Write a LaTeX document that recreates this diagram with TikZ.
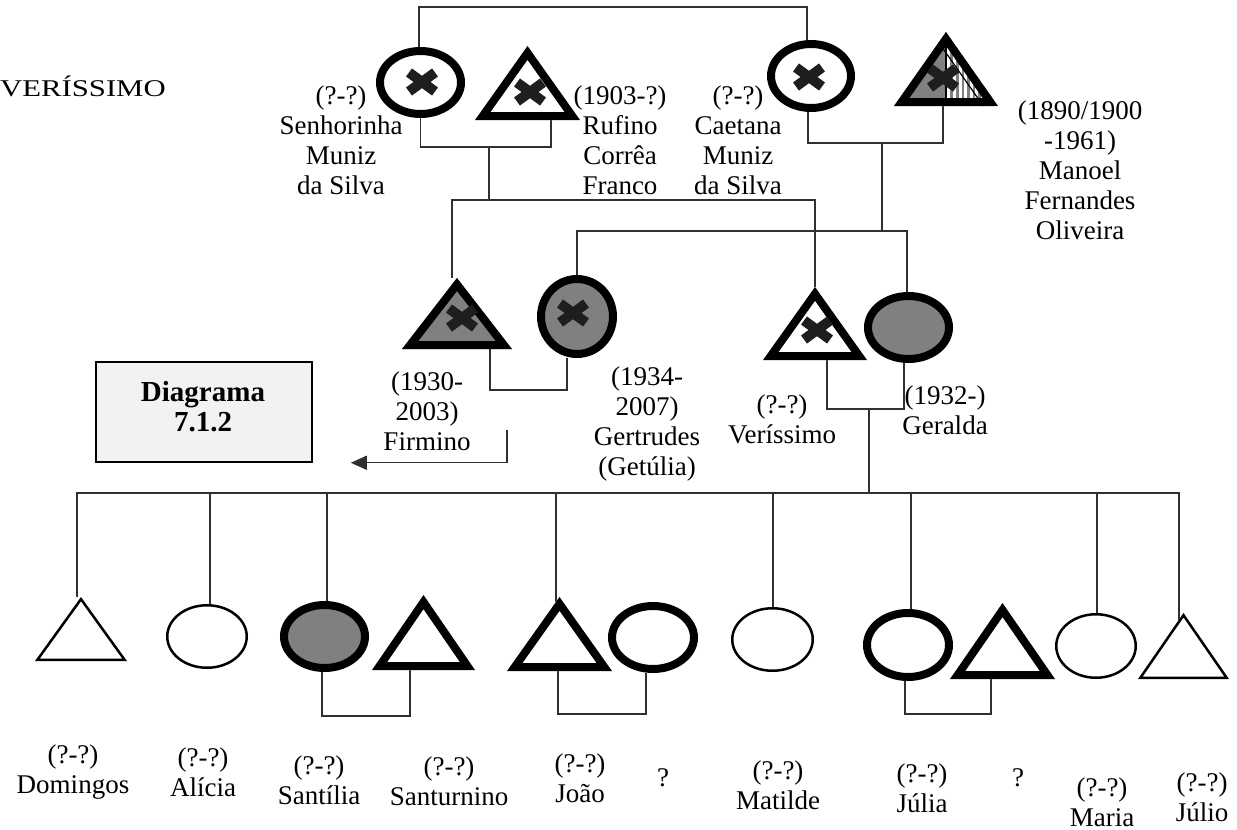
\documentclass[tikz,border=0pt]{standalone}
\usepackage{fontspec}
\setmainfont{Liberation Serif}
\usetikzlibrary{shapes.geometric,calc,arrows.meta}
\definecolor{fillgray}{HTML}{808080}
\definecolor{linegray}{HTML}{303030}
\definecolor{xgray}{HTML}{1E1E1E}
\definecolor{boxgray}{HTML}{F2F2F2}
\pgfdeclarelayer{bg}
\pgfsetlayers{bg,main}

\tikzset{
  conn/.style={draw=linegray, line width=1.4pt},
  lbl/.style={align=center, inner sep=0pt, font=\fontsize{27}{30}\selectfont},
  % ellipse person: outer width, outer height, fill, stroke width
  pers ellipse/.style n args={4}{ellipse, draw=black, line width=#4pt, fill=#3,
    inner sep=0pt, minimum width=#1pt-#4pt, minimum height=#2pt-#4pt},
  % triangle person: outer width, outer height, fill, doubled stroke width (clipped inside)
  pers tri/.style n args={4}{rectangle, inner sep=0pt, outer sep=0pt,
    minimum width=#1pt, minimum height=#2pt,
    path picture={
      \coordinate (tA) at (path picture bounding box.north);
      \coordinate (tB) at (path picture bounding box.south west);
      \coordinate (tC) at (path picture bounding box.south east);
      \begin{scope}
        \clip (tA)--(tB)--(tC)--cycle;
        \fill[#3] (tA)--(tB)--(tC)--cycle;
        \draw[black, line width=#4pt, line join=miter] (tA)--(tB)--(tC)--cycle;
      \end{scope}
    }},
  % triangle half grey, half hatched
  manoel tri/.style={rectangle, inner sep=0pt, outer sep=0pt,
    minimum width=104pt, minimum height=74pt,
    path picture={
      \coordinate (mA) at (path picture bounding box.north);
      \coordinate (mB) at (path picture bounding box.south west);
      \coordinate (mC) at (path picture bounding box.south east);
      \begin{scope}
        \clip (mA)--(mB)--(mC)--cycle;
        \fill[white] (mA)--(mB)--(mC)--cycle;
        \fill[fillgray] (mB) rectangle (mA);
        \foreach \i in {1,...,8}
          \draw[fillgray, line width=2.6pt] ($(mA)+(\i*5.6,0)$) -- ($(mA |- mB)+(\i*5.6,0)$);
        \draw[black, line width=1.2pt] (mA) -- (mA |- mB);
        \draw[black, line width=1.2pt] ($(mA)+(-9.8,6.9)$) -- ($(mC)+(-9.8,6.9)$);
        \draw[black, line width=16pt, line join=miter] (mA)--(mB)--(mC)--cycle;
      \end{scope}
    }},
  xmark/.pic={\draw[xgray, line width=10pt] (-13,-9.5)--(13,9.5) (-13,9.5)--(13,-9.5);}
}

\begin{document}
\begin{tikzpicture}[x=1pt,y=-1pt]
\useasboundingbox (0,0) rectangle (1237,830);

% title
\node[anchor=base east, inner sep=0pt, xscale=1.28, font=\fontsize{24}{28}\selectfont] (title) at (166,96) {VERÍSSIMO};

% grandparents
\node[pers ellipse={89}{71}{white}{8}] (sen) at (420.5,82.5) {};
\node[pers tri={105}{74}{white}{16}] (ruf) at (527.5,83) {};
\node[pers ellipse={88}{72}{white}{8}] (cae) at (811,76) {};
\node[manoel tri] (man) at (946,69) {};

% parents
\node[pers tri={110}{71}{fillgray}{16}] (fir) at (457,313.5) {};
\node[pers ellipse={80}{83}{fillgray}{8}] (gtr) at (577,316.5) {};
\node[pers tri={104}{73}{white}{16}] (ver) at (815,323.5) {};
\node[pers ellipse={89}{71}{fillgray}{8}] (gel) at (908.5,327.5) {};

% children
\node[pers tri={92}{64}{white}{5}] (dom) at (81,629) {};
\node[pers ellipse={82}{65}{white}{2.5}] (ali) at (207,636.5) {};
\node[pers ellipse={89}{71}{fillgray}{8}] (san) at (324.5,636.5) {};
\node[pers tri={103}{75}{white}{16}] (sat) at (423.5,632.5) {};
\node[pers tri={105}{74}{white}{16}] (joa) at (559.5,634) {};
\node[pers ellipse={90}{71}{white}{8}] (jsp) at (653,637.5) {};
\node[pers ellipse={83}{65}{white}{2.5}] (mat) at (772.5,639.5) {};
\node[pers ellipse={90}{72}{white}{8}] (jul) at (908,645) {};
\node[pers tri={105}{76}{white}{16}] (jus) at (1002.5,641) {};
\node[pers ellipse={82}{66}{white}{2.5}] (mar) at (1096,646) {};
\node[pers tri={91}{66}{white}{5}] (juo) at (1183.5,646) {};

% deceased marks
\pic at ($(sen)+(1.5,-0.5)$) {xmark};
\pic at ($(ruf)+(2.5,9)$) {xmark};
\pic at ($(cae)+(-2,1)$) {xmark};
\pic at ($(man)+(-3,9)$) {xmark};
\pic at ($(fir)+(5,4.5)$) {xmark};
\pic at ($(gtr)+(-4,-3.5)$) {xmark};
\pic at ($(ver)+(2,6.5)$) {xmark};

% legend box
\node[draw=black, line width=1.5pt, fill=boxgray, minimum width=216pt, minimum height=100pt,
  inner sep=0pt] (box) at (204,412) {};
\node[align=center, inner sep=0pt, font=\bfseries\fontsize{29}{30}\selectfont] (boxtxt) at (203,407) {Diagrama\\7.1.2};

% connectors
\coordinate (topmid) at (613,7);
\coordinate (c1) at (489,147);
\coordinate (k1) at (489,200);
\coordinate (c2) at (882,143);
\coordinate (k2) at (882,231);
\coordinate (c3) at (530,390);
\coordinate (arrtop) at (507,430);
\coordinate (c4) at (869,409);
\coordinate (kline) at (869,493);
\coordinate (c5) at (366,716);
\coordinate (c6) at (602,714);
\coordinate (c7) at (948,714);

\begin{pgfonlayer}{bg}
\draw[conn] ($(sen.north)+(-1.5,0)$) |- (topmid) -| ($(cae.north)+(-4,0)$);
\draw[conn] (sen.south) |- (c1) -| ($(ruf.south)+(23.5,0)$);
\draw[conn] (c1) -- (k1);
\draw[conn] ($(fir.north)+(-5,0)$) |- (k1) -| (ver.north);
\draw[conn] ($(cae.south)+(-3,0)$) |- (c2) -| ($(man.south)+(-3,0)$);
\draw[conn] (c2) -- (k2);
\draw[conn] (gtr.north) |- (k2) -| ($(gel.north)+(-1.5,0)$);
\draw[conn] ($(fir.south)+(33,0)$) |- (c3) -| ($(gtr.south)+(-10,0)$);
\draw[conn] ($(ver.south)+(12,0)$) |- (c4) -| ($(gel.south)+(-4.5,0)$);
\draw[conn] (c4) -- (kline);
\draw[conn] ($(dom.north)+(-4,0)$) |- (kline) -| ($(juo.north)+(-4.5,6.5)$);
\draw[conn] ($(ali.north)+(3,0)$) |- (kline);
\draw[conn] ($(san.north)+(2.5,0)$) |- (kline);
\draw[conn] ($(joa.north)+(-3.5,5)$) |- (kline);
\draw[conn] ($(mat.north)+(0.5,0)$) |- (kline);
\draw[conn] ($(jul.north)+(3,0)$) |- (kline);
\draw[conn] ($(mar.north)+(1,0)$) |- (kline);
\draw[conn] ($(san.south)+(-2.5,0)$) |- (c5) -| ($(sat.south)+(-13.5,0)$);
\draw[conn] ($(joa.south)+(-1.5,0)$) |- (c6) -| ($(jsp.south)+(-7,0)$);
\draw[conn] ($(jul.south)+(-3,0)$) |- (c7) -| ($(jus.south)+(-11.5,0)$);
\end{pgfonlayer}
\draw[conn, -{Triangle[length=16pt,width=14pt]}] (arrtop) |- ($(box.south east)+(38,0)$);

% names and dates
\node[lbl] (senL) at (341,140.5) {(?-?)\\Senhorinha\\Muniz\\da Silva};
\node[lbl] (rufL) at (620,140) {(1903-?)\\Rufino\\Corrêa\\Franco};
\node[lbl] (caeL) at (738,140) {(?-?)\\Caetana\\Muniz\\da Silva};
\node[lbl] (manL) at (1080,170) {(1890/1900\\-1961)\\Manoel\\Fernandes\\Oliveira};
\node[lbl] (firL) at (427,411) {(1930-\\2003)\\Firmino};
\node[lbl] (gtrL) at (647,424) {(1934-\\2007)\\Gertrudes\\(Getúlia)};
\node[lbl] (verL) at (782,419) {(?-?)\\Veríssimo};
\node[lbl] (gelL) at (945,410) {(1932-)\\Geralda};

\node[lbl] (domL) at (73,772.5) {(?-?)\\Domingos};
\node[lbl] (aliL) at (203,772.5) {(?-?)\\Alícia};
\node[lbl] (sanL) at (319,780) {(?-?)\\Santília};
\node[lbl] (satL) at (449,781) {(?-?)\\Santurnino};
\node[lbl] (joaL) at (580,778) {(?-?)\\João};
\node[lbl] (q1) at (663,778) {?};
\node[lbl] (matL) at (778,785) {(?-?)\\Matilde};
\node[lbl] (julL) at (922,788) {(?-?)\\Júlia};
\node[lbl] (q2) at (1018,778) {?};
\node[lbl] (marL) at (1102,802) {(?-?)\\Maria};
\node[lbl] (juoL) at (1202,797) {(?-?)\\Júlio};
\end{tikzpicture}
\end{document}
